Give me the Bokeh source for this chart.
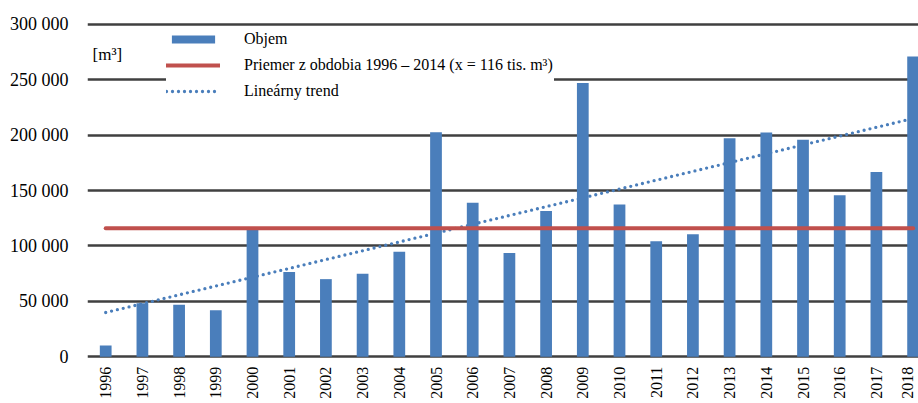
import math
from bokeh.plotting import figure
from bokeh.models import FixedTicker, Legend, LegendItem, Label, Range1d, ColumnDataSource
from bokeh.core.properties import value
from bokeh.embed import file_html
from bokeh.resources import INLINE

# ---- data ----
years = list(range(1996, 2019))
year_labels = [str(y) for y in years]
volumes = [10000, 48300, 46800, 42000, 115500, 76400, 70000, 74900, 94800,
           202600, 138900, 93600, 131600, 247000, 137400, 104200, 110500,
           197200, 202300, 195700, 145800, 166700, 271000]
avg_value = 116000
trend_values = [39900, 215000]          # linear trend at first / last year
y_ticks = [0, 50000, 100000, 150000, 200000, 250000, 300000]
y_tick_labels = ["0", "50 000", "100 000", "150 000", "200 000", "250 000", "300 000"]
legend_labels = ["Objem",
                 "Priemer z obdobia 1996 \u2013 2014 (x = 116 tis. m\u00b3)",
                 "Line\u00e1rny trend"]
unit_label = "[m\u00b3]"

BLUE = "#4a7ebb"
RED = "#c0504d"
GRID = "#404040"
FONT = "'Liberation Serif', 'Times New Roman', 'DejaVu Serif', serif"

p = figure(width=918, height=403, output_backend="svg", toolbar_location=None,
           x_range=Range1d(1995.504, 2018.147), y_range=Range1d(-42238, 310650),
           x_axis_location=None,
           min_border_left=87, min_border_right=0, min_border_top=12, min_border_bottom=0)
p.outline_line_color = None
p.background_fill_color = "white"
p.border_fill_color = "white"

p.xgrid.visible = False
p.ygrid.ticker = FixedTicker(ticks=y_ticks)
p.ygrid.grid_line_color = GRID
p.ygrid.grid_line_width = 2.4

ax = p.yaxis[0]
ax.ticker = FixedTicker(ticks=y_ticks)
ax.major_label_overrides = {t: l for t, l in zip(y_ticks, y_tick_labels)}
ax.axis_line_color = None
ax.major_tick_line_color = None
ax.minor_tick_line_color = None
ax.major_tick_in = 0
ax.major_tick_out = 0
ax.major_label_standoff = 19
ax.major_label_text_font = FONT
ax.major_label_text_font_size = "18px"
ax.major_label_text_color = "black"

trend = p.line(x=[years[0], years[-1]], y=trend_values, line_color=BLUE,
               line_width=3.3, line_dash="0 6", line_cap="round")
bars = p.vbar(x=years, top=volumes, bottom=0, width=0.32,
              fill_color=BLUE, line_color=None)
avg = p.line(x=[years[0], years[-1]], y=[avg_value, avg_value], line_color=RED,
             line_width=4, line_cap="round")

# year labels under the bars (last one nudged so it stays inside the page)
label_src = ColumnDataSource(dict(
    x=years, y=[0] * len(years), text=year_labels,
    dx=[0] * (len(years) - 1) + [-6]))
p.text(x="x", y="y", text="text", source=label_src, angle=math.pi / 2,
       x_offset="dx", text_align="right", text_baseline="middle", y_offset=10,
       text_font=value(FONT), text_font_size="16px", text_color="black")

p.add_layout(Label(x=5, y=349, x_units="screen", y_units="screen", text=unit_label,
                   text_font=FONT, text_font_size="17px", text_baseline="middle",
                   text_color="black"))

legend = Legend(items=[LegendItem(label=legend_labels[0], renderers=[bars]),
                       LegendItem(label=legend_labels[1], renderers=[avg]),
                       LegendItem(label=legend_labels[2], renderers=[trend])],
                location=(79, 303), orientation="vertical",
                glyph_width=54, glyph_height=10, label_standoff=24,
                padding=8, spacing=8, margin=0, label_width=310,
                label_text_font=FONT, label_text_font_size="16px",
                label_text_color="black",
                background_fill_color="white", background_fill_alpha=1.0,
                border_line_color=None)
p.add_layout(legend)

open("out.html", "w").write(file_html(p, INLINE))
